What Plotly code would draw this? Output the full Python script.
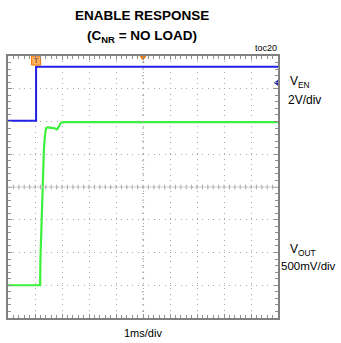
import plotly.graph_objects as go

# Scope settings
T_DIV_MS = 1.0          # horizontal scale, ms/div
EN_V_PER_DIV = 2.0      # V_EN scale
OUT_V_PER_DIV = 0.5     # V_OUT scale
EN_ZERO_DIV = 6.02      # V_EN ground reference (div from bottom)
OUT_ZERO_DIV = 1.0      # V_OUT ground reference (div from bottom)

# V_EN waveform (time in ms, volts)
en_t = [0.0, 1.04, 1.04, 10.0]
en_v = [0.0, 0.0, 3.3, 3.3]

# V_OUT waveform (time in ms, volts)
out_t = [0.0, 1.19, 1.20, 1.22, 1.26, 1.30, 1.33, 1.37, 1.41, 1.48, 1.56, 1.63,
         1.70, 1.76, 1.81, 1.85, 1.89, 1.93, 1.96, 2.04, 2.11, 3.0, 5.0, 7.5, 10.0]
out_v = [0.0, 0.0, 0.38, 0.69, 1.30, 1.76, 2.07, 2.29, 2.40, 2.41, 2.41, 2.41,
         2.40, 2.39, 2.38, 2.40, 2.43, 2.46, 2.48, 2.49, 2.49, 2.49, 2.49, 2.49, 2.49]

en_y = [EN_ZERO_DIV + v / EN_V_PER_DIV for v in en_v]
out_y = [OUT_ZERO_DIV + v / OUT_V_PER_DIV for v in out_v]
en_x = [t / T_DIV_MS for t in en_t]
out_x = [t / T_DIV_MS for t in out_t]

W, H = 341, 343
x0, x1 = 8, 278
y0, y1 = 56, 318

fig = go.Figure()

grid_col = "#a8a8a8"
shapes = []
# center crosshair with minor ticks
shapes.append(dict(type="line", xref="x", yref="y", x0=0, x1=10, y0=4, y1=4,
                   line=dict(color="#cfcfcf", width=1)))
for i in range(1, 50):
    xv = i * 0.2
    shapes.append(dict(type="line", xref="x", yref="y", x0=xv, x1=xv, y0=3.93, y1=4.07,
                       line=dict(color=grid_col, width=1)))
for i in range(1, 40):
    yv = i * 0.2
    shapes.append(dict(type="line", xref="x", yref="y", x0=4.96, x1=5.04, y0=yv, y1=yv,
                       line=dict(color=grid_col, width=1)))

fig.add_trace(go.Scatter(x=out_x, y=out_y, mode="lines",
                         line=dict(color="#3cf03c", width=2.2), hoverinfo="skip"))
fig.add_trace(go.Scatter(x=en_x, y=en_y, mode="lines",
                         line=dict(color="#2020e8", width=2), hoverinfo="skip"))

# trigger point and trigger position markers
fig.add_trace(go.Scatter(x=[en_x[1]], y=[7.86], mode="markers+text", text=["T"],
                         textfont=dict(size=8, color="#7a3a00", family="Liberation Sans"),
                         textposition="middle center",
                         marker=dict(symbol="square", size=9, color="#ffb060",
                                     line=dict(color="#f07800", width=1)),
                         cliponaxis=False, hoverinfo="skip"))
fig.add_trace(go.Scatter(x=[5], y=[7.97], mode="markers",
                         marker=dict(symbol="triangle-down", size=7, color="#f07800"),
                         cliponaxis=False, hoverinfo="skip"))
# channel reference marker
fig.add_trace(go.Scatter(x=[9.96], y=[7.18], mode="markers",
                         marker=dict(symbol="triangle-left", size=6, color="#2020c0"),
                         cliponaxis=False, hoverinfo="skip"))

axis_common = dict(showgrid=True, gridcolor=grid_col, griddash="1px,4.4px", gridwidth=1,
                   zeroline=False, showticklabels=False, showline=True,
                   linecolor="#808080", linewidth=2, mirror="ticks",
                   ticks="inside", ticklen=4, tickcolor="#909090",
                   fixedrange=True)

fig.update_layout(
    width=W, height=H, autosize=False,
    margin=dict(l=0, r=0, t=0, b=0),
    paper_bgcolor="white", plot_bgcolor="white",
    showlegend=False,
    shapes=shapes,
    xaxis=dict(range=[0, 10], dtick=1, domain=[x0 / W, x1 / W],
               minor=dict(dtick=0.2, ticks="inside", ticklen=3, tickcolor="#909090",
                          showgrid=False),
               **axis_common),
    yaxis=dict(range=[0, 8], dtick=1, domain=[(H - y1) / H, (H - y0) / H],
               minor=dict(dtick=0.2, ticks="inside", ticklen=3, tickcolor="#909090",
                          showgrid=False),
               **axis_common),
)

FAMILY = "Liberation Sans, Arial, sans-serif"
title_font = dict(family=FAMILY, size=13.5, color="black")
label_font = dict(family=FAMILY, size=12, color="black")

ann = [
    dict(text="<b>ENABLE RESPONSE</b>", x=142, y=15, font=title_font),
    dict(text="<b>(C<sub>NR</sub> = NO LOAD)</b>", x=142, y=37, font=title_font),
    dict(text="toc20", x=266, y=48, font=dict(family=FAMILY, size=9, color="black")),
    dict(text="V<sub>EN</sub>", x=288, y=82, font=label_font, xanchor="left"),
    dict(text="2V/div", x=286, y=100, font=label_font, xanchor="left"),
    dict(text="V<sub>OUT</sub>", x=288, y=250, font=label_font, xanchor="left"),
    dict(text="500mV/div", x=279, y=266, font=dict(family=FAMILY, size=11.5, color="black"),
         xanchor="left"),
    dict(text="1ms/div", x=143, y=333, font=dict(family=FAMILY, size=11, color="black")),
]
for a in ann:
    fig.add_annotation(text=a["text"], x=a["x"] / W, y=1 - a["y"] / H,
                       xref="paper", yref="paper", showarrow=False,
                       xanchor=a.get("xanchor", "center"), yanchor="middle",
                       font=a["font"])

fig.write_html("out.html")
